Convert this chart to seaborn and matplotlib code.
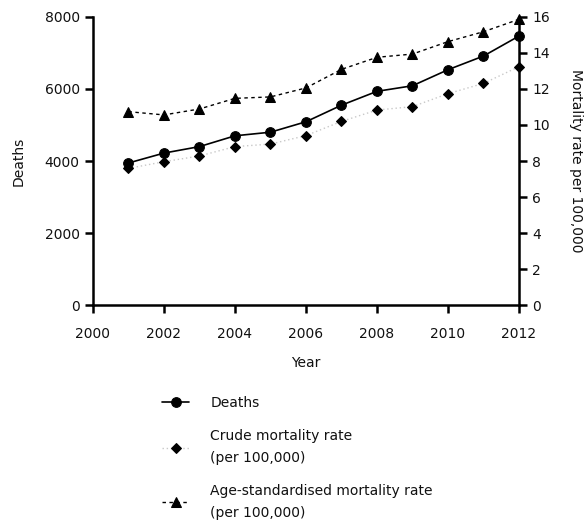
import matplotlib
matplotlib.use("Agg")
import matplotlib.pyplot as plt
import seaborn as sns
import pandas as pd

years = [2001, 2002, 2003, 2004, 2005, 2006, 2007, 2008, 2009, 2010, 2011, 2012]
deaths = [3945, 4220, 4400, 4700, 4800, 5090, 5550, 5935, 6090, 6535, 6915, 7470]
crude_rate = [7.59, 7.96, 8.28, 8.80, 8.94, 9.41, 10.20, 10.83, 11.02, 11.74, 12.31, 13.24]
age_std_rate = [10.74, 10.56, 10.89, 11.48, 11.56, 12.06, 13.09, 13.76, 13.94, 14.63, 15.18, 15.87]

x_ticks = [2000, 2002, 2004, 2006, 2008, 2010, 2012]
left_ticks = [0, 2000, 4000, 6000, 8000]
right_ticks = [0, 2, 4, 6, 8, 10, 12, 14, 16]

df = pd.DataFrame({"Year": years, "Deaths": deaths,
                   "Crude": crude_rate, "AgeStd": age_std_rate})

sns.set_style("ticks")
plt.rcParams["font.family"] = ["DejaVu Sans"]
TEXT = "#111111"
FS = 10

fig = plt.figure(figsize=(5.87, 5.29), dpi=100)
ax = fig.add_axes([0.1584, 0.4234, 0.7257, 0.5445])
ax2 = ax.twinx()

sns.lineplot(data=df, x="Year", y="Deaths", ax=ax, color="black", lw=1.2,
             marker="o", markersize=7, markeredgecolor="black", label="Deaths",
             legend=False)
sns.lineplot(data=df, x="Year", y="Crude", ax=ax2, color="#c8c8c8", lw=1.0,
             linestyle=(0, (1, 2)), marker="D", markersize=5.5,
             markerfacecolor="black", markeredgecolor="black",
             label="Crude mortality rate\n(per 100,000)", legend=False)
sns.lineplot(data=df, x="Year", y="AgeStd", ax=ax2, color="black", lw=1.0,
             linestyle=(0, (2.5, 2.5)), marker="^", markersize=7.5,
             markerfacecolor="black", markeredgecolor="black",
             label="Age-standardised mortality rate\n(per 100,000)", legend=False)

ax.set_xlim(2000, 2012)
ax.set_ylim(0, 8000)
ax2.set_ylim(0, 16)
ax.set_xticks(x_ticks)
ax.set_yticks(left_ticks)
ax2.set_yticks(right_ticks)

for a in (ax, ax2):
    for s in a.spines.values():
        s.set_linewidth(1.8)
        s.set_color("black")
    a.spines["top"].set_visible(False)
    a.tick_params(width=1.8, length=5.5, labelsize=FS, colors="black",
                  labelcolor=TEXT, pad=4)
ax.tick_params(axis="x", pad=10)
ax.spines["right"].set_visible(False)
ax2.spines["left"].set_visible(False)
ax2.spines["bottom"].set_visible(False)
for line in ax.lines + ax2.lines:
    line.set_clip_on(False)

ax.set_xlabel("Year", fontsize=FS, labelpad=11, color=TEXT)
ax.set_ylabel("Deaths", fontsize=FS, labelpad=14, color=TEXT)
ax2.set_ylabel("Mortality rate per 100,000", fontsize=FS, rotation=270,
               labelpad=24, color=TEXT)

handles = ax.lines[:1] + ax2.lines[:2]
labels = ["Deaths", "Crude mortality rate\n(per 100,000)",
          "Age-standardised mortality rate\n(per 100,000)"]
leg = fig.legend(handles, labels, loc="upper left", bbox_to_anchor=(0.266, 0.262),
                 frameon=False, fontsize=FS, handlelength=2.0, handletextpad=1.5,
                 labelspacing=1.38, borderaxespad=0, labelcolor=TEXT)
for t in leg.get_texts():
    t.set_linespacing(1.7)

fig.savefig("out.png", dpi=100)
